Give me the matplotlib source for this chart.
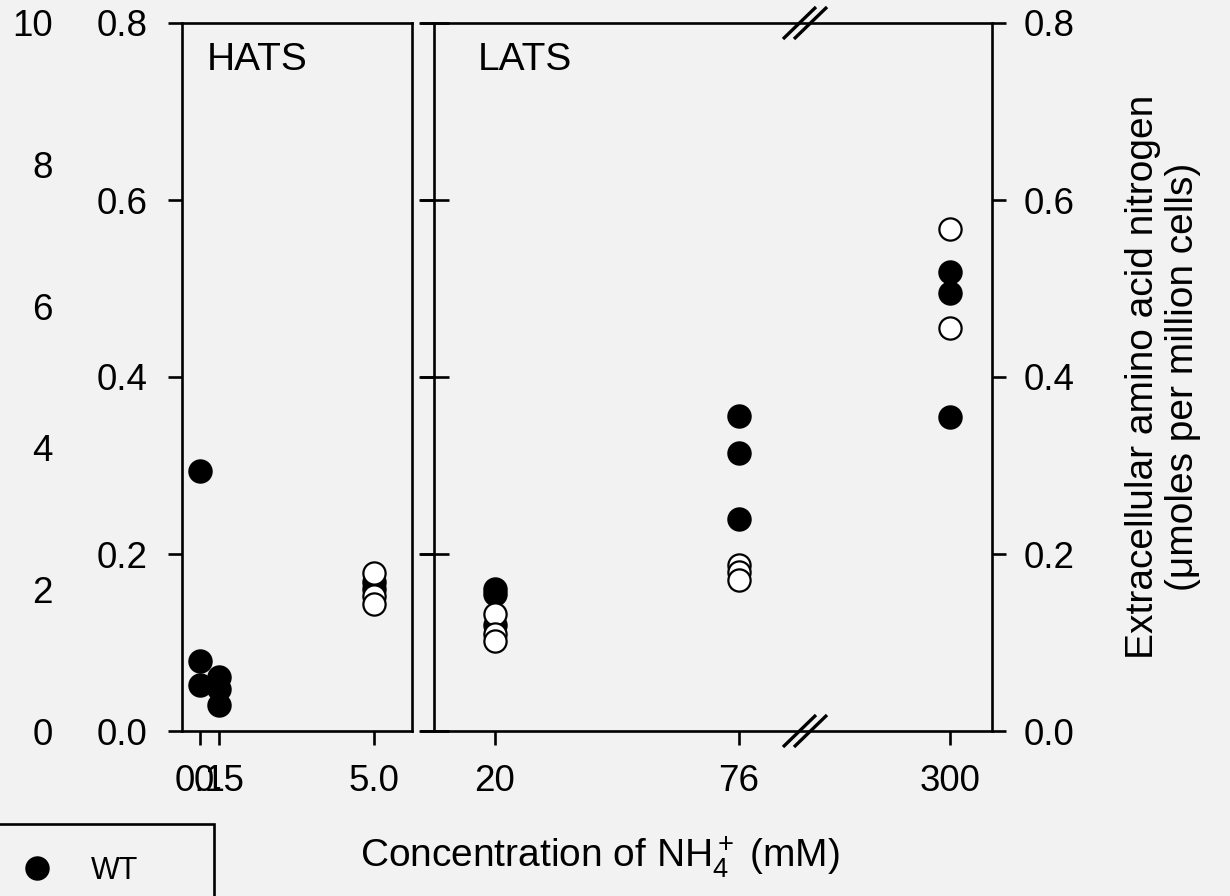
import numpy as np
import matplotlib
matplotlib.use("Agg")
import matplotlib.pyplot as plt
from matplotlib.lines import Line2D
from matplotlib.patches import Rectangle
from matplotlib.ticker import NullLocator, FixedLocator

# ---------------- data ----------------
hats_ticks = [0.1, 0.5, 5.0]
hats_tick_labels = ["0.1", "0.5", "5.0"]
lats_ticks = [20, 76, 300]
lats_tick_labels = ["20", "76", "300"]

hats_wt_x = [0.1, 0.1, 0.1, 0.5, 0.5, 0.5, 5.0, 5.0]
hats_wt_y = [0.294, 0.079, 0.052, 0.061, 0.048, 0.029, 0.168, 0.160]
hats_mut_x = [5.0, 5.0, 5.0]
hats_mut_y = [0.178, 0.152, 0.144]

lats_wt_x = [20, 20, 20, 76, 76, 76, 300, 300, 300]
lats_wt_y = [0.161, 0.155, 0.120, 0.356, 0.314, 0.240, 0.519, 0.495, 0.355]
lats_mut_x = [20, 20, 20, 76, 76, 76, 300, 300]
lats_mut_y = [0.132, 0.110, 0.102, 0.188, 0.180, 0.171, 0.567, 0.455]

y_ticks = [0.0, 0.2, 0.4, 0.6, 0.8]
y_tick_labels = ["0.0", "0.2", "0.4", "0.6", "0.8"]
outer_ticks = [0, 2, 4, 6, 8, 10]
outer_tick_labels = ["0", "2", "4", "6", "8", "10"]

legend_label = "WT"
xlabel = "Concentration of NH$_4^+$ (mM)"
ylabel_right = "Extracellular amino acid nitrogen\n(\u03bcmoles per million cells)"

# ---------------- style ----------------
plt.rcParams["font.family"] = ["Liberation Sans", "DejaVu Sans"]
plt.rcParams["mathtext.fontset"] = "custom"
plt.rcParams["mathtext.rm"] = "Liberation Sans"
plt.rcParams["mathtext.it"] = "Liberation Sans:italic"
plt.rcParams["mathtext.bf"] = "Liberation Sans:bold"

W, H = 1230, 896
BG = "#f2f2f2"
FS = 26.5      # tick labels
FSL = 28       # axis labels / panel titles
LW = 1.9
MS = 16
MEW = 1.6

fig = plt.figure(figsize=(W / 100, H / 100), dpi=100, facecolor=BG)

def px_axes(x0, x1, ytop, ybot):
    return fig.add_axes([x0 / W, (H - ybot) / H, (x1 - x0) / W, (ybot - ytop) / H])

# broken (piecewise linear) x scales
def make_scale(knots_data, knots_frac):
    kd = np.asarray(knots_data, float)
    kf = np.asarray(knots_frac, float)
    fwd = lambda x: np.interp(x, kd, kf)
    inv = lambda f: np.interp(f, kf, kd)
    return fwd, inv

Y_TOP, Y_BOT = 23, 731

# ---- HATS panel ----
axh = px_axes(182, 412, Y_TOP, Y_BOT)
axh.set_facecolor("none")
hx0, hx1 = -0.273, 6.10
fwd_h, inv_h = make_scale([hx0, 0.1, 0.5, 5.0, hx1],
                          [0, 18 / 230, 37 / 230, 192 / 230, 1])
axh.set_xscale("function", functions=(fwd_h, inv_h))
axh.set_xlim(hx0, hx1)
axh.set_ylim(0, 0.8)
axh.plot(hats_wt_x, hats_wt_y, "o", color="black", ms=MS, mew=MEW, mec="black", clip_on=False, zorder=3)
axh.plot(hats_mut_x, hats_mut_y, "o", color="white", ms=MS, mew=MEW, mec="black", clip_on=False, zorder=4)
axh.xaxis.set_major_locator(FixedLocator(hats_ticks))
axh.set_xticklabels(hats_tick_labels)
axh.xaxis.set_minor_locator(NullLocator())
axh.set_yticks(y_ticks)
axh.set_yticklabels(y_tick_labels)
axh.tick_params(axis="y", direction="out", length=10, width=LW, pad=15, labelsize=FS)
axh.tick_params(axis="x", direction="out", length=10, width=LW, pad=14, labelsize=FS)
for s in axh.spines.values():
    s.set_linewidth(LW)
axh.text(0.109, 0.948, "HATS", transform=axh.transAxes, fontsize=FSL, ha="left", va="center")

# ---- LATS panel ----
axl = px_axes(434, 992, Y_TOP, Y_BOT)
axl.set_facecolor("none")
lx0, lx1 = 6.0, 344.6
fwd_l, inv_l = make_scale([lx0, 20, 76, 300, lx1],
                          [0, 61 / 558, 305 / 558, 516 / 558, 1])
axl.set_xscale("function", functions=(fwd_l, inv_l))
axl.set_xlim(lx0, lx1)
axl.set_ylim(0, 0.8)
axl.plot(lats_wt_x, lats_wt_y, "o", color="black", ms=MS, mew=MEW, mec="black", clip_on=False, zorder=3)
axl.plot(lats_mut_x, lats_mut_y, "o", color="white", ms=MS, mew=MEW, mec="black", clip_on=False, zorder=4)
axl.xaxis.set_major_locator(FixedLocator(lats_ticks))
axl.set_xticklabels(lats_tick_labels)
axl.xaxis.set_minor_locator(NullLocator())
axl.set_yticks(y_ticks)
axl.set_yticklabels(y_tick_labels)
axl.tick_params(axis="x", direction="out", length=10, width=LW, pad=14, labelsize=FS)
axl.tick_params(axis="y", which="both", left=True, right=True, labelleft=False, labelright=True,
                width=LW, labelsize=FS)
axl.tick_params(axis="y", which="major", direction="out", length=10, pad=13)
for s in axl.spines.values():
    s.set_linewidth(LW)
axl.text(0.079, 0.948, "LATS", transform=axl.transAxes, fontsize=FSL, ha="left", va="center")

# inout ticks on LATS left spine (overlay axis)
axli = px_axes(434, 992, Y_TOP, Y_BOT)
axli.set_facecolor("none")
axli.set_ylim(0, 0.8)
axli.set_xticks([])
axli.set_yticks(y_ticks)
axli.tick_params(axis="y", direction="inout", length=21, width=LW, labelleft=False)
for s in axli.spines.values():
    s.set_visible(False)

# ---- outer 0-10 scale (labels only) ----
axo = px_axes(182, 412, Y_TOP, Y_BOT)
axo.set_facecolor("none")
axo.set_ylim(0, 10)
axo.set_xticks([])
axo.set_yticks(outer_ticks)
axo.set_yticklabels(outer_tick_labels)
axo.tick_params(axis="y", length=0, pad=93, labelsize=FS)
for s in axo.spines.values():
    s.set_visible(False)

# ---- axis break marks ----
def break_mark(xc, yc):
    for dx in (-5.5, 5.5):
        x0, y0 = xc + dx - 16.5, yc + 16
        x1, y1 = xc + dx + 16.5, yc - 16
        fig.add_artist(Line2D([x0 / W, x1 / W], [(H - y0) / H, (H - y1) / H],
                              transform=fig.transFigure, color="black", lw=2.4,
                              solid_capstyle="butt"))

break_mark(805, Y_TOP)
break_mark(805, Y_BOT)

# ---- labels ----
fig.text(600 / W, (H - 857) / H, xlabel, fontsize=FSL, ha="center", va="center")
fig.text(1163 / W, (H - 377) / H, ylabel_right, fontsize=FSL, rotation=90,
         ha="center", va="center", multialignment="center", linespacing=1.15)

# ---- legend (cut by the figure edge) ----
handle = Line2D([], [], marker="o", ls="", color="black", ms=MS, mew=MEW)
fig.legend([handle], [legend_label], loc="upper left",
           bbox_to_anchor=(14 / W, (H - 856) / H), bbox_transform=fig.transFigure,
           frameon=False, fontsize=22, handlelength=1.5, handletextpad=1.0,
           borderpad=0, borderaxespad=0)
fig.add_artist(Rectangle((-10 / W, -20 / H), 224 / W, (H - 824 + 20) / H,
                         transform=fig.transFigure, fill=False, lw=LW,
                         edgecolor="black", clip_on=False))

fig.savefig("out.png", dpi=100, facecolor=BG)
